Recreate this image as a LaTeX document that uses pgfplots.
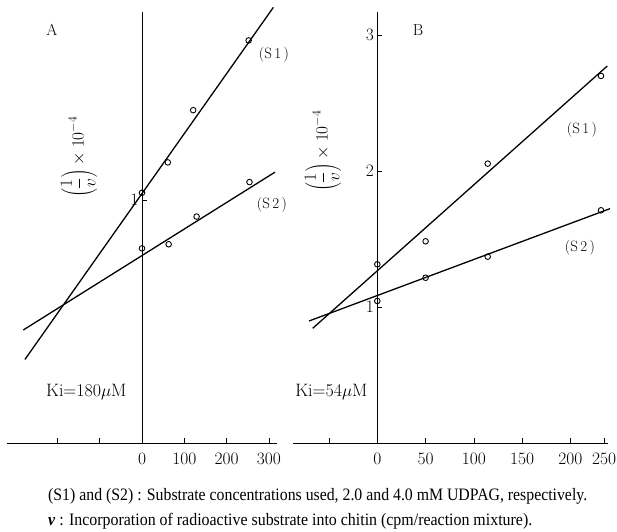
\documentclass[border=0pt]{standalone}
\usepackage{pgfplots}
\pgfplotsset{compat=1.18}
\usepackage{fontspec}
\usepackage{graphicx}
\newfontfamily\capfont{Liberation Serif}
\begin{document}
\begin{tikzpicture}[x=1bp,y=1bp]
\useasboundingbox (0bp,0bp) rectangle (617bp,532bp);
\pgfplotsset{
  panel/.style={
    scale only axis, anchor=origin, ymin=0,
    axis lines=middle, axis line style={-, line width=0.8pt},
    tick align=inside, major tick length=5bp,
    hide obscured x ticks=false, hide obscured y ticks=false,
    tick style={black, line width=0.8pt},
    xticklabel style={font=\fontsize{17.5}{17.5}\selectfont, yshift=-6bp},
    yticklabel style={font=\fontsize{17.5}{17.5}\selectfont},
    clip=false,
  },
  dat/.style={only marks, mark=o, mark size=2.8bp, mark options={line width=0.9pt}, black},
  fit/.style={no marks, line width=1.3pt, black},
}
% Panel A
\begin{axis}[panel,
  at={(142bp,89bp)}, width=270bp, height=431bp,
  xmin=-319, xmax=319, ymax=1.774,
  xtick={-200,-100,0,100,200,300}, xticklabels={,,0,100,200,300},
  ytick={1}, yticklabels={1},
]
\addplot[fit] coordinates {(-276.6,0.344) (310.4,1.793)};
\addplot[fit] coordinates {(-280.6,0.465) (314.4,1.115)};
\addplot[dat] coordinates {(0,1.030) (61,1.155) (121,1.370) (252,1.657)};
\addplot[dat] coordinates {(0,0.801) (63,0.818) (129,0.932) (254,1.074)};
\end{axis}
% Panel B
\begin{axis}[panel,
  at={(377.3bp,89bp)}, width=314.7bp, height=431bp,
  xmin=-87, xmax=238.8, ymax=3.169,
  xtick={-50,0,50,100,150,200,234.7}, xticklabels={,0,50,100,150,200,250},
  ytick={1,2,3}, yticklabels={1,2,3},
]
\addplot[fit] coordinates {(-66.9,0.843) (238.1,2.772)};
\addplot[fit] coordinates {(-70.7,0.897) (240.9,1.723)};
\addplot[dat] coordinates {(0,1.314) (50,1.483) (114.3,2.054) (231.6,2.699)};
\addplot[dat] coordinates {(0,1.044) (50,1.215) (114.3,1.370) (231.6,1.711)};
\end{axis}
% texts
\node[font=\fontsize{16}{16}\selectfont] at (52bp,502bp) {A};
\node[font=\fontsize{16}{16}\selectfont] at (418bp,502bp) {B};
\node[font=\fontsize{15}{15}\selectfont] at (274bp,477bp) {(S\,1\,)};
\node[font=\fontsize{15}{15}\selectfont] at (272bp,327bp) {(S\,2\,)};
\node[font=\fontsize{15}{15}\selectfont] at (582bp,402bp) {(S\,1\,)};
\node[font=\fontsize{15}{15}\selectfont] at (580bp,284bp) {(S\,2\,)};
\node[font=\fontsize{18}{18}\selectfont, anchor=east] at (130bp,140bp) {Ki=180$\mu$M};
\node[font=\fontsize{18}{18}\selectfont, anchor=east] at (371bp,140bp) {Ki=54$\mu$M};
\node[font=\fontsize{16.5}{16.5}\selectfont, rotate=90] at (79bp,375bp) {$\displaystyle\left(\frac{1}{v}\right)\times 10^{-4}$};
\node[font=\fontsize{16.5}{16.5}\selectfont, rotate=90] at (323bp,381bp) {$\displaystyle\left(\frac{1}{v}\right)\times 10^{-4}$};
\node[anchor=base west, inner sep=0pt] at (48bp,32bp) {\resizebox{539bp}{\height}{\capfont\fontsize{17.5}{17.5}\selectfont (S1) and (S2) : Substrate concentrations used, 2.0 and 4.0 mM UDPAG, respectively.}};
\node[anchor=base west, inner sep=0pt] at (48bp,6bp) {\resizebox{484bp}{\height}{\capfont\fontsize{17.5}{17.5}\selectfont \textbf{\textit{v}} : Incorporation of radioactive substrate into chitin (cpm/reaction mixture).}};
\end{tikzpicture}
\end{document}
